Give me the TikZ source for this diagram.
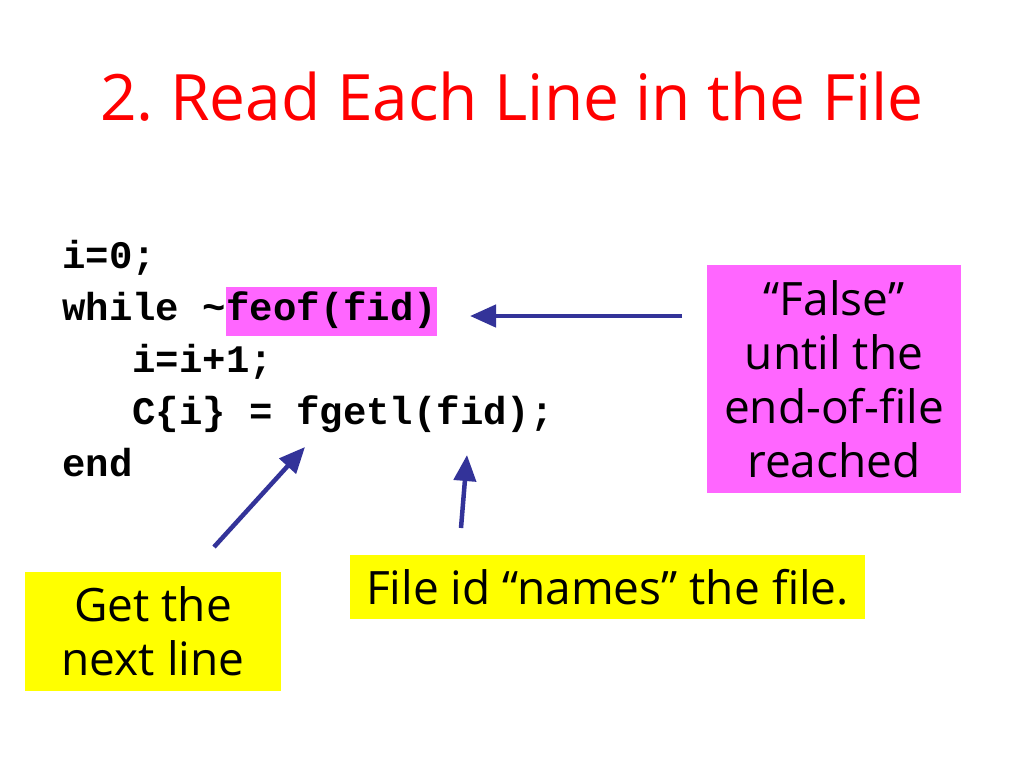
\documentclass[tikz,border=0pt]{standalone}
\usepackage{fontspec}
\setmainfont{Open Sans}
\setmonofont{Liberation Mono}
\usetikzlibrary{arrows.meta}
\definecolor{titlered}{RGB}{255,0,0}
\definecolor{hlmag}{RGB}{255,102,255}
\definecolor{noteyel}{RGB}{255,255,0}
\definecolor{arrblue}{RGB}{51,51,153}
\tikzset{
  code/.style={anchor=base west, inner sep=0pt, font=\ttfamily\bfseries\fontsize{39}{39}\selectfont},
  note/.style={inner sep=0pt, align=center, font=\fontsize{46}{54}\selectfont},
  ptr/.style={draw=arrblue, line width=4.5pt, -{Triangle[length=26pt,width=22pt]}},
}
\begin{document}
\begin{tikzpicture}[x=1pt,y=-1pt]
\useasboundingbox[fill=white] (0,0) rectangle (1024,768);
% title
\node[anchor=base, inner sep=0pt, text=titlered, font=\fontsize{64}{64}\selectfont] (title) at (512,120) {2.\hspace{-6pt} Read Each Line in the File};
% code
\node[code] (l1) at (62,268) {i=0;};
\node[code] (l2) at (62,320) {while \textasciitilde};
\node[code, fill=hlmag, text height=33pt, text depth=16pt] (feof) at (l2.base east) {feof(fid)};
\node[code] (l3) at (62,372) {\ \ \ i=i+1;};
\node[code] (l4) at (62,424) {\ \ \ C\{i\} = fgetl(fid);};
\node[code] (l5) at (62,476) {end};
% notes
\node[note, fill=hlmag, minimum width=254pt, minimum height=228pt] (eof) at (834,379) {“False”\\until the\\end-of-file\\reached};
\node[note, fill=noteyel, minimum width=256pt, minimum height=119pt] (next) at (153,631.5) {Get the\\next line};
\node[note, fill=noteyel, minimum width=515pt, minimum height=64pt] (fid) at (607.5,587) {File id “names” the file.};
% arrows
\coordinate (t1) at (682,316);
\coordinate (h1) at (470,316);
\coordinate (t2) at (214,547);
\coordinate (h2) at (305,447);
\coordinate (t3) at (461,528);
\coordinate (h3) at (467,455);
\draw[ptr] (t1) -- (h1);
\draw[ptr] (t2) -- (h2);
\draw[ptr] (t3) -- (h3);
\end{tikzpicture}
\end{document}
